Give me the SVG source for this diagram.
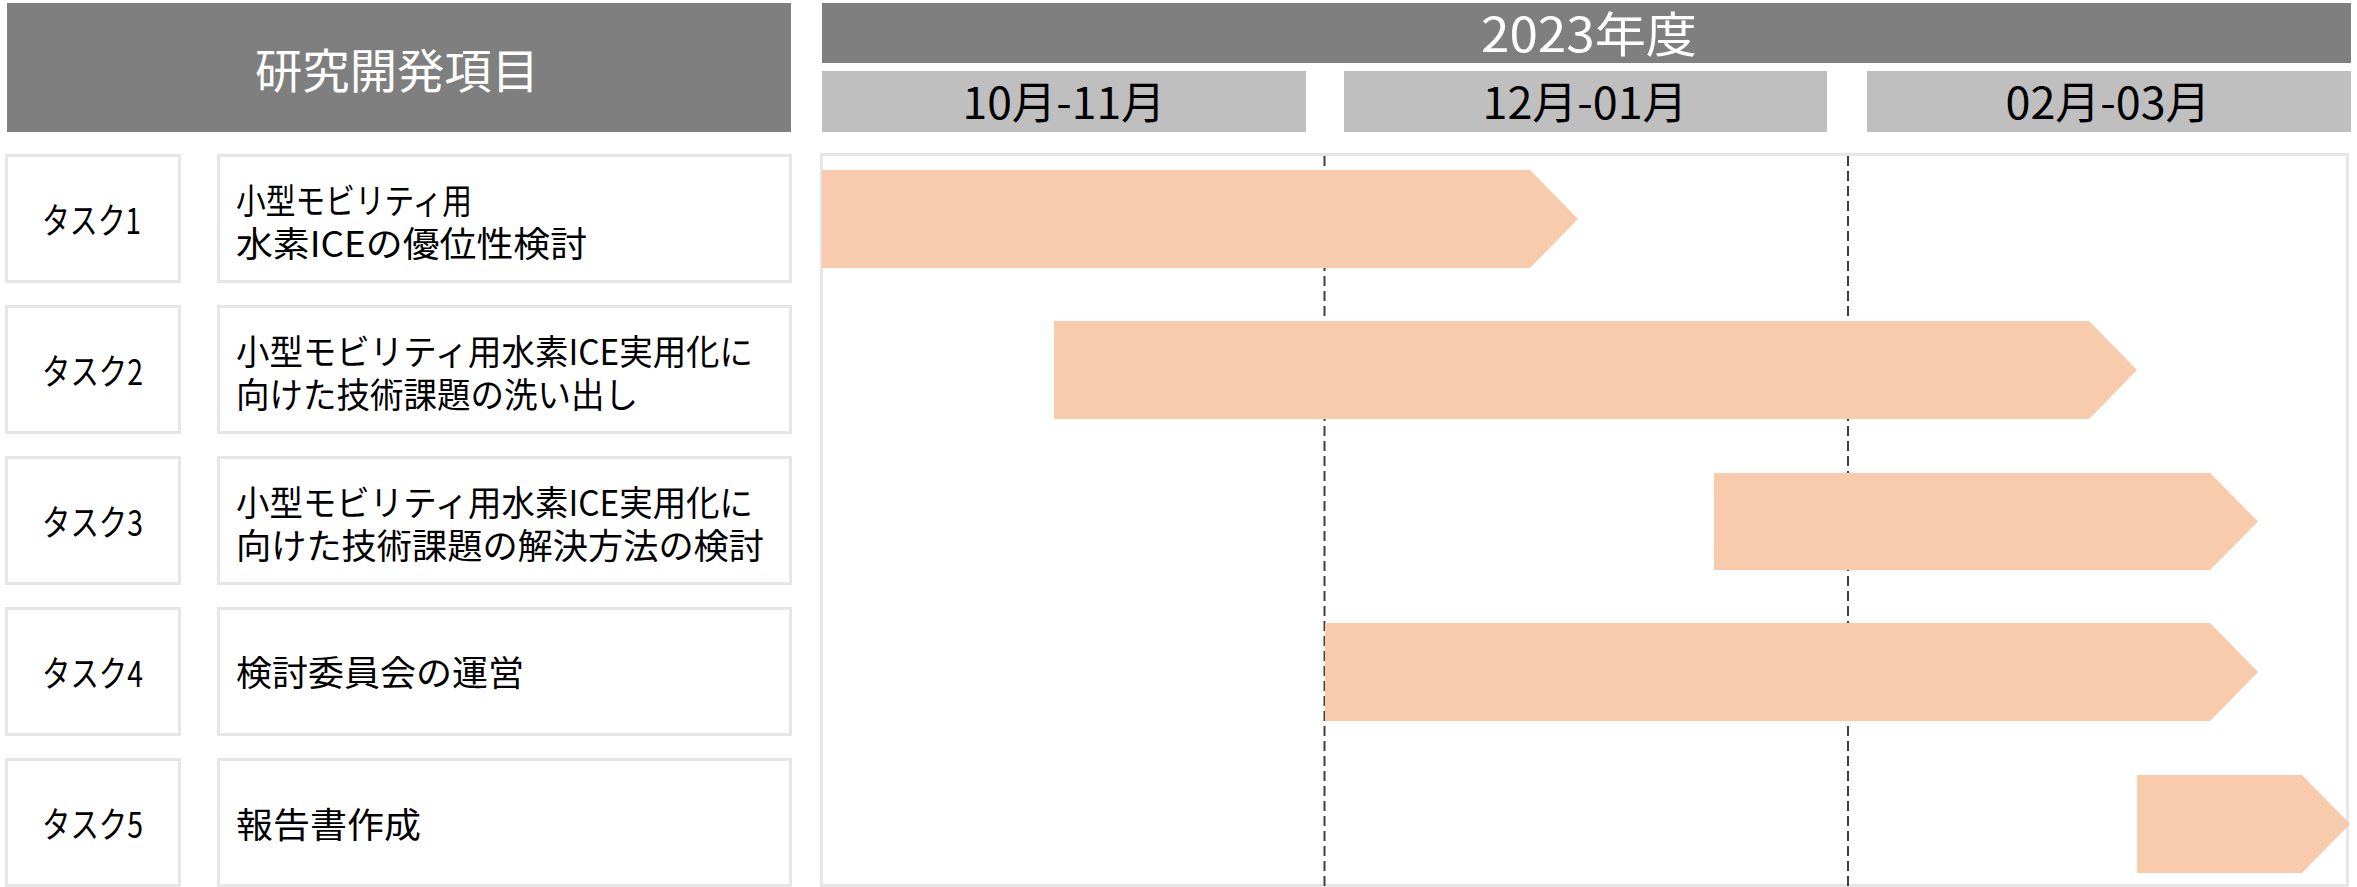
<svg xmlns="http://www.w3.org/2000/svg" width="2357" height="887" viewBox="0 0 2357 887">
<style>
.t{font-family:"Noto Sans CJK JP","Noto Sans",sans-serif;}
.hdr{fill:#7F7F7F;}
.mon{fill:#BFBFBF;}
.box{fill:#FFFFFF;stroke:#E6E6E6;stroke-width:3;}
.wt{fill:#FFFFFF;}
.bk{fill:#000000;}
.bar{fill:#F8CBAD;}
.dash{stroke:#404040;stroke-width:2;stroke-dasharray:10 5;fill:none;}
</style>
<rect width="2357" height="887" fill="#FFFFFF"/>
<g id="header-left">
<rect class="hdr" x="7" y="3" width="784" height="129"/>
<text class="t wt" x="397" y="88" font-size="47" text-anchor="middle" textLength="284" lengthAdjust="spacingAndGlyphs">研究開発項目</text>
</g>
<g id="header-year">
<rect class="hdr" x="822" y="3" width="1529" height="60"/>
<text class="t wt" x="1589" y="52" font-size="48" text-anchor="middle" textLength="216" lengthAdjust="spacingAndGlyphs">2023年度</text>
</g>
<g id="month-1">
<rect class="mon" x="822" y="71" width="484" height="61"/>
<text class="t bk" x="1064" y="119" font-size="44" text-anchor="middle" textLength="203" lengthAdjust="spacingAndGlyphs">10月-11月</text>
</g>
<g id="month-2">
<rect class="mon" x="1344" y="71" width="483" height="61"/>
<text class="t bk" x="1585" y="119" font-size="44" text-anchor="middle" textLength="205" lengthAdjust="spacingAndGlyphs">12月-01月</text>
</g>
<g id="month-3">
<rect class="mon" x="1867" y="71" width="484" height="61"/>
<text class="t bk" x="2108" y="119" font-size="44" text-anchor="middle" textLength="205" lengthAdjust="spacingAndGlyphs">02月-03月</text>
</g>
<g id="chart-area">
<rect class="box" x="821.5" y="154.5" width="1526" height="731"/>
</g>
<g id="connectors">
<line class="dash" x1="1324.5" y1="156" x2="1324.5" y2="887"/>
<line class="dash" x1="1848" y1="156" x2="1848" y2="887"/>
</g>
<g id="task-1">
<rect class="box" x="6.5" y="155.5" width="173" height="126"/>
<text class="t bk" x="42" y="234" font-size="36" textLength="99" lengthAdjust="spacingAndGlyphs">タスク1</text>
<rect class="box" x="218.5" y="155.5" width="572" height="126"/>
<text class="t bk" x="236" y="214" font-size="35" textLength="236" lengthAdjust="spacingAndGlyphs">小型モビリティ用</text>
<text class="t bk" x="236" y="257" font-size="35" textLength="351" lengthAdjust="spacingAndGlyphs">水素ICEの優位性検討</text>
<polygon class="bar" points="822,170 1530,170 1578,219 1530,268 822,268"/>
</g>
<g id="task-2">
<rect class="box" x="6.5" y="306.5" width="173" height="126"/>
<text class="t bk" x="42" y="385" font-size="36" textLength="101" lengthAdjust="spacingAndGlyphs">タスク2</text>
<rect class="box" x="218.5" y="306.5" width="572" height="126"/>
<text class="t bk" x="236" y="365" font-size="35" textLength="517" lengthAdjust="spacingAndGlyphs">小型モビリティ用水素ICE実用化に</text>
<text class="t bk" x="236" y="408" font-size="35" textLength="402" lengthAdjust="spacingAndGlyphs">向けた技術課題の洗い出し</text>
<polygon class="bar" points="1054,321 2089,321 2137,370 2089,419 1054,419"/>
</g>
<g id="task-3">
<rect class="box" x="6.5" y="457.5" width="173" height="126"/>
<text class="t bk" x="42" y="536" font-size="36" textLength="101" lengthAdjust="spacingAndGlyphs">タスク3</text>
<rect class="box" x="218.5" y="457.5" width="572" height="126"/>
<text class="t bk" x="236" y="516" font-size="35" textLength="517" lengthAdjust="spacingAndGlyphs">小型モビリティ用水素ICE実用化に</text>
<text class="t bk" x="236" y="559" font-size="35" textLength="528" lengthAdjust="spacingAndGlyphs">向けた技術課題の解決方法の検討</text>
<polygon class="bar" points="1714,473 2210,473 2258,521.5 2210,570 1714,570"/>
</g>
<g id="task-4">
<rect class="box" x="6.5" y="608.5" width="173" height="126"/>
<text class="t bk" x="42" y="687" font-size="36" textLength="101" lengthAdjust="spacingAndGlyphs">タスク4</text>
<rect class="box" x="218.5" y="608.5" width="572" height="126"/>
<text class="t bk" x="236" y="686" font-size="35" textLength="288" lengthAdjust="spacingAndGlyphs">検討委員会の運営</text>
<polygon class="bar" points="1325,623 2210,623 2258,672 2210,721 1325,721"/>
</g>
<g id="task-5">
<rect class="box" x="6.5" y="759.5" width="173" height="126"/>
<text class="t bk" x="42" y="838" font-size="36" textLength="101" lengthAdjust="spacingAndGlyphs">タスク5</text>
<rect class="box" x="218.5" y="759.5" width="572" height="126"/>
<text class="t bk" x="236" y="838" font-size="35" textLength="185" lengthAdjust="spacingAndGlyphs">報告書作成</text>
<polygon class="bar" points="2137,775 2302,775 2350,824 2302,873 2137,873"/>
</g>
</svg>
